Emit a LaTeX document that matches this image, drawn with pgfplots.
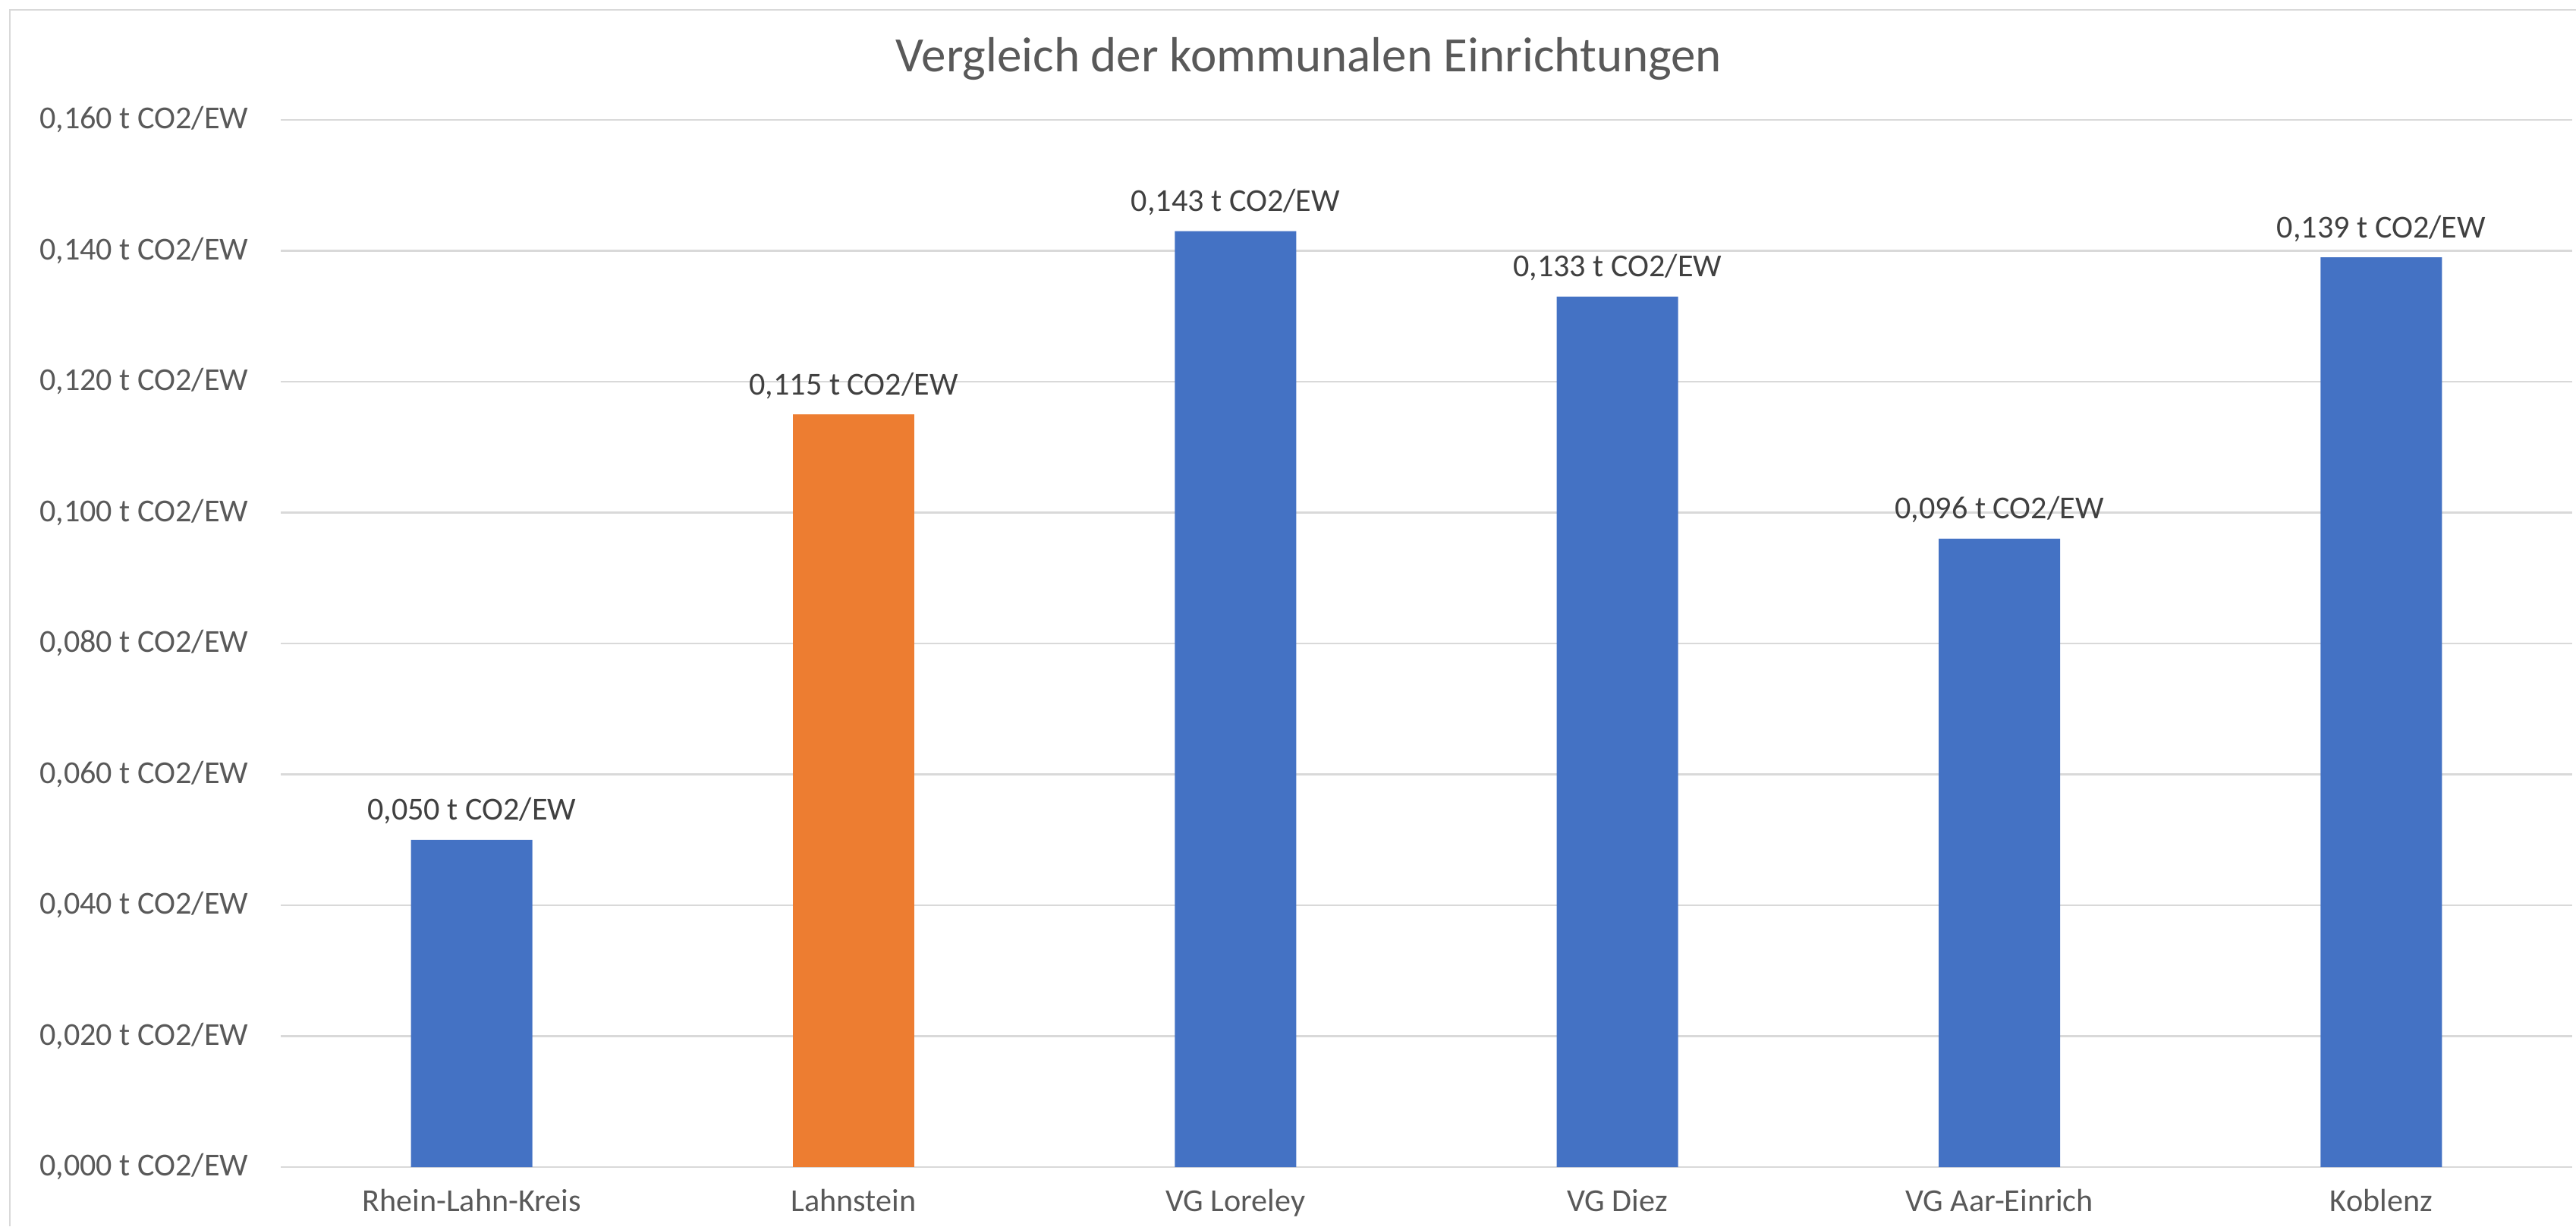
\documentclass[border=0pt]{standalone}
\usepackage{pgfplots}
\pgfplotsset{compat=1.18}
\usepackage{fontspec}
\setmainfont{Carlito}

\definecolor{barblue}{HTML}{4472C4}
\definecolor{barorange}{HTML}{ED7D31}
\definecolor{gridgray}{HTML}{D9D9D9}
\definecolor{ticktext}{HTML}{595959}
\definecolor{labeltext}{HTML}{404040}

\begin{document}
\begin{tikzpicture}
\useasboundingbox (0,0) rectangle (33.95,16.16);
% chart frame (only top and left edge are inside the crop)
\draw[gridgray, line width=0.8pt] (0.13,0) -- (0.13,16.03) -- (33.95,16.03);
\node[anchor=base, text=ticktext, font=\fontsize{18.5}{22}\selectfont] at (17.25,15.21) {Vergleich der kommunalen Einrichtungen};

\begin{axis}[
    at={(3.70cm,0.78cm)}, anchor=south west,
    scale only axis,
    width=30.2cm, height=13.80cm,
    xmin=-0.5, xmax=5.5,
    ymin=0, ymax=0.16,
    ytick={0,0.02,0.04,0.06,0.08,0.1,0.12,0.14,0.16},
    xtick={0,1,2,3,4,5},
    xticklabels={Rhein-Lahn-Kreis, Lahnstein, VG Loreley, VG Diez, VG Aar-Einrich, Koblenz},
    ymajorgrids,
    grid style={gridgray, line width=0.8pt},
    axis line style={draw=none},
    major tick length=0pt,
    tick style={draw=none},
    /pgf/number format/.cd, fixed, fixed zerofill, precision=3, use comma, assume math mode=true,
    /pgfplots/.cd,
    yticklabel={\pgfmathprintnumber{\tick} t CO2/EW},
    yticklabel style={anchor=east, inner sep=0pt, xshift=-0.42cm, text=ticktext, font=\fontsize{12}{14}\selectfont},
    xticklabel style={anchor=base, inner sep=0pt, yshift=-0.58cm, text=ticktext, font=\fontsize{12}{14}\selectfont},
    ybar, bar width=1.6cm, bar shift=0pt,
    nodes near coords={\pgfmathprintnumber{\pgfplotspointmeta} t CO2/EW},
    nodes near coords style={anchor=base, inner sep=0pt, yshift=0.26cm, text=labeltext, font=\fontsize{12}{14}\selectfont},
]
\addplot[fill=barblue, draw=none] coordinates {(0,0.050) (2,0.143) (3,0.133) (4,0.096) (5,0.139)};
\addplot[fill=barorange, draw=none] coordinates {(1,0.115)};
\end{axis}
\end{tikzpicture}
\end{document}
